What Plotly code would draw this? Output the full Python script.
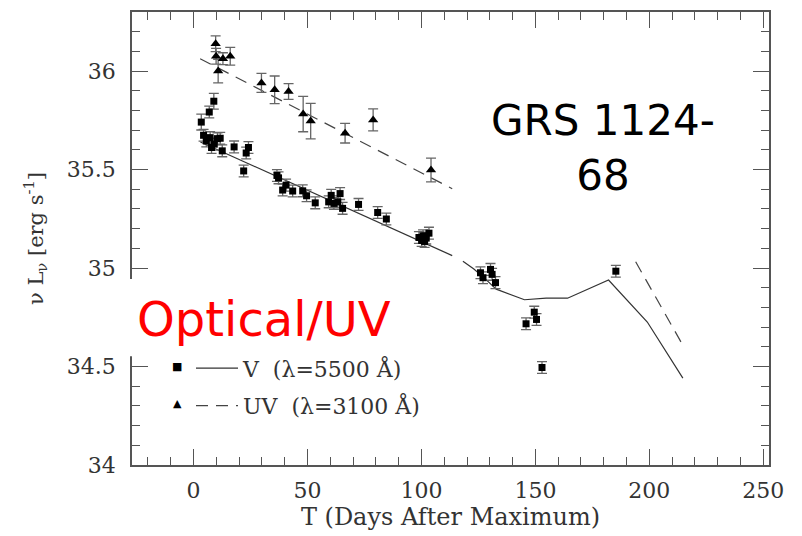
import plotly.graph_objects as go

# ---- V band (lambda = 5500 A) data points ----
v_days = [3.4, 4.4, 5.6, 6.9, 7.3, 7.9, 8.9, 9.1, 10.5, 11.7, 12.6, 17.8, 22.0, 23.1, 24.1,
          36.6, 37.3, 39.1, 40.6, 43.5, 47.9, 49.6, 53.4, 59.3, 60.4, 61.6, 63.3, 64.3, 65.4,
          72.4, 80.8, 84.6, 98.9, 100.1, 100.7, 101.4, 102.1, 103.3,
          125.9, 127.0, 130.3, 131.0, 132.5, 145.9, 149.5, 150.5, 152.9, 185.3]
v_lum = [35.741, 35.674, 35.645, 35.792, 35.662, 35.612, 35.847, 35.629, 35.657, 35.659, 35.595,
         35.615, 35.493, 35.584, 35.612,
         35.470, 35.458, 35.396, 35.421, 35.391, 35.392, 35.367, 35.331, 35.336, 35.369, 35.328,
         35.336, 35.378, 35.303, 35.323, 35.282, 35.249, 35.155, 35.140, 35.164, 35.135, 35.152,
         35.177, 34.976, 34.951, 34.993, 34.968, 34.926, 34.717, 34.776, 34.739, 34.495, 34.984]
v_err = [0.04, 0.03, 0.03, 0.03, 0.03, 0.03, 0.04, 0.03, 0.03, 0.03, 0.03, 0.03, 0.03, 0.03, 0.03,
         0.03, 0.03, 0.03, 0.03, 0.03, 0.03, 0.03, 0.03, 0.03, 0.03, 0.03, 0.03, 0.03, 0.03,
         0.03, 0.03, 0.03, 0.03, 0.03, 0.03, 0.03, 0.03, 0.03,
         0.03, 0.03, 0.03, 0.03, 0.03, 0.03, 0.03, 0.03, 0.03, 0.03]

# ---- UV (lambda = 3100 A) data points ----
uv_days = [9.7, 9.9, 10.8, 12.9, 16.1, 29.8, 35.6, 41.7, 48.1, 51.4, 66.5, 78.8, 104.2]
uv_lum = [36.139, 36.075, 36.000, 36.063, 36.075, 35.940, 35.905, 35.896, 35.782, 35.746,
          35.685, 35.752, 35.498]
uv_err = [0.04, 0.04, 0.06, 0.03, 0.045, 0.048, 0.07, 0.04, 0.09, 0.09, 0.05, 0.056, 0.06]

# ---- model curves ----
v_model_days = [3.0, 113.5, None, 118.2, 123.0, 128.0, 132.8, 145.2, 154.7, 164.1, 182.1, 199.1, 214.7]
v_model_lum = [35.640, 35.063, None, 35.035, 34.995, 34.945, 34.893, 34.839, 34.847, 34.847,
               34.939, 34.726, 34.441]
uv_model_days = [2.9, 113.5, None, 194.0, 214.7]
uv_model_lum = [36.063, 35.403, None, 35.032, 34.608]

x_ticks = [0, 50, 100, 150, 200, 250]
y_ticks = [34, 34.5, 35, 35.5, 36]
y_tick_labels = ["34", "34.5", "35", "35.5", "36"]

SERIF = "DejaVu Serif"
SANS = "DejaVu Sans"
AX = "#555555"

# plot-area pixel geometry (used only to place the free text boxes)
PL, PR, PT, PB = 132, 769, 10, 468


def px(xp):
    return (xp - PL) / (PR - PL)


def py(yp):
    return (PB - yp) / (PB - PT)


fig = go.Figure()

fig.add_trace(go.Scatter(
    x=v_model_days, y=v_model_lum, mode="lines", name="V  (λ=5500 Å)",
    line=dict(color="#333333", width=1.2), legendgroup="v", connectgaps=False))
fig.add_trace(go.Scatter(
    x=uv_model_days, y=uv_model_lum, mode="lines", name="UV  (λ=3100 Å)",
    line=dict(color="#444444", width=1.2, dash="12px,8px"), legendgroup="uv", connectgaps=False))

fig.add_trace(go.Scatter(
    x=v_days, y=v_lum, mode="markers", showlegend=False,
    marker=dict(symbol="square", size=7, color="black"),
    error_y=dict(type="data", array=v_err, color="#666666", thickness=1.3, width=5)))
fig.add_trace(go.Scatter(
    x=uv_days, y=uv_lum, mode="markers", showlegend=False,
    marker=dict(symbol="triangle-up", size=9, color="black"),
    error_y=dict(type="data", array=uv_err, color="#666666", thickness=1.3, width=5)))

axis_common = dict(
    showline=True, linecolor=AX, linewidth=1.5, mirror="ticks",
    ticks="inside", tickcolor=AX, tickwidth=1.3, ticklen=16,
    showgrid=False, zeroline=False,
    tickfont=dict(family=SERIF, size=22, color="#333333"),
)

fig.update_xaxes(
    range=[-27, 252.5], tickvals=x_ticks,
    minor=dict(dtick=10, tick0=0, ticks="inside", ticklen=8, tickcolor=AX, tickwidth=1.2, showgrid=False),
    title=dict(text="T (Days After Maximum)", font=dict(family=SERIF, size=24, color="#333333"), standoff=6),
    ticklabelstandoff=5,
    **axis_common)
fig.update_yaxes(
    range=[34, 36.3], tickvals=y_ticks, ticktext=y_tick_labels,
    minor=dict(dtick=0.1, tick0=34, ticks="inside", ticklen=8, tickcolor=AX, tickwidth=1.2, showgrid=False),
    title=dict(text="ν L<sub>ν</sub> [erg s<sup>-1</sup>]", font=dict(family=SERIF, size=21, color="#333333"), standoff=18),
    ticklabelstandoff=10,
    **axis_common)

fig.update_layout(
    width=802, height=536,
    margin=dict(l=PL, r=802 - PR, t=PT, b=536 - PB),
    paper_bgcolor="white", plot_bgcolor="white",
    showlegend=True,
    legend=dict(x=px(191), y=py(349), xanchor="left", yanchor="top",
                bgcolor="rgba(0,0,0,0)", font=dict(family=SERIF, size=22, color="#333333"),
                itemwidth=42, tracegroupgap=6),
    shapes=[
        # white label box that hides part of the left frame behind "Optical/UV"
        dict(type="rect", xref="paper", yref="paper", layer="above",
             x0=px(122), x1=px(398), y0=py(358), y1=py(280),
             fillcolor="white", line=dict(width=0)),
    ],
    annotations=[
        dict(x=px(177), y=py(368), xref="paper", yref="paper", xanchor="center", yanchor="middle",
             text="■", showarrow=False, font=dict(family=SANS, size=11, color="black")),
        dict(x=px(177), y=py(406), xref="paper", yref="paper", xanchor="center", yanchor="middle",
             text="▲", showarrow=False, font=dict(family=SANS, size=11, color="black")),
        dict(x=px(264), y=py(320), xref="paper", yref="paper", xanchor="center", yanchor="middle",
             text="Optical/UV", showarrow=False, bgcolor="white", borderpad=6,
             font=dict(family=SANS, size=48, color="red")),
        dict(x=px(603), y=py(147), xref="paper", yref="paper", xanchor="center", yanchor="middle",
             text="GRS 1124-<br>68", showarrow=False, align="center",
             font=dict(family=SANS, size=42, color="black")),
    ],
)

fig.write_html("out.html")
